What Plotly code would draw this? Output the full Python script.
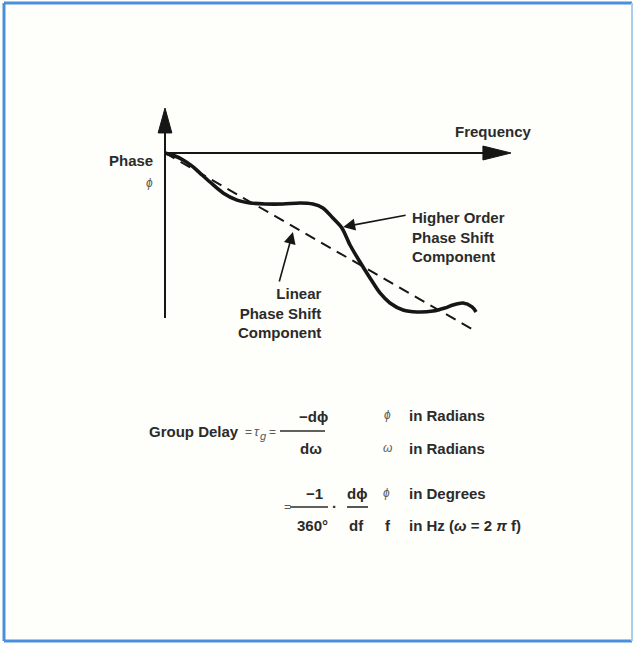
import plotly.graph_objects as go

W, H = 635, 645
# ---- data (frequency units, phase units) ----
freq_curve = [0.00, 0.32, 0.58, 0.87, 1.12, 1.44, 1.86, 2.31, 2.72, 3.21, 3.78, 4.33, 4.74, 5.06,
              5.38, 5.67, 5.93, 6.25, 6.57, 6.89, 7.21, 7.63, 8.08, 8.59, 8.97, 9.23, 9.55, 9.84, 9.97]
phase_curve = [0.00, -0.17, -0.39, -0.73, -1.12, -1.62, -2.23, -2.63, -2.79, -2.85, -2.85, -2.79, -2.85, -3.07,
               -3.63, -4.19, -5.14, -6.09, -6.98, -7.82, -8.38, -8.77, -8.88, -8.83, -8.66, -8.49, -8.38, -8.60, -8.88]
freq_linear = [0.0, 10.0]
phase_linear = [0.0, -10.0]

# axes of the sketch
v_axis_x = [0.0, 0.0]
v_axis_y = [-9.22, 1.12]
h_axis_x = [0.0, 10.2]
h_axis_y = [0.0, 0.0]
up_head_x = [-0.22, 0.22, 0.0, -0.22]
up_head_y = [1.12, 1.12, 2.51, 1.12]
right_head_x = [10.19, 10.19, 11.09, 10.19]
right_head_y = [0.39, -0.39, 0.0, 0.39]

# callout arrows (tip, tail)
higher_tip = (5.71, -4.13)
higher_tail = (7.76, -3.46)
linear_tip = (4.10, -4.41)
linear_tail = (3.65, -7.26)

# pixel scale of the sketch
X0, Y0, SX, SY = 165.0, 153.0, 31.2, 17.9
xr = [(0 - X0) / SX, (W - X0) / SX]
yr = [-(H - Y0) / SY, Y0 / SY]

INK = "#161616"
TXT = "#2b2b2b"
GR = "#5a5a5a"
FONT = "Liberation Sans, Arial, Helvetica, sans-serif"

fig = go.Figure()
fig.add_trace(go.Scatter(x=v_axis_x, y=v_axis_y, mode="lines", line=dict(color=INK, width=2), hoverinfo="skip"))
fig.add_trace(go.Scatter(x=h_axis_x, y=h_axis_y, mode="lines", line=dict(color=INK, width=2), hoverinfo="skip"))
fig.add_trace(go.Scatter(x=up_head_x, y=up_head_y, mode="lines", fill="toself", fillcolor=INK,
                         line=dict(color=INK, width=1), hoverinfo="skip"))
fig.add_trace(go.Scatter(x=right_head_x, y=right_head_y, mode="lines", fill="toself", fillcolor=INK,
                         line=dict(color=INK, width=1), hoverinfo="skip"))
fig.add_trace(go.Scatter(x=freq_linear, y=phase_linear, mode="lines",
                         line=dict(color=INK, width=2, dash="11px,7px"), hoverinfo="skip"))
fig.add_trace(go.Scatter(x=freq_curve, y=phase_curve, mode="lines",
                         line=dict(color=INK, width=3.6, shape="spline", smoothing=0.8), hoverinfo="skip"))


def P(px, py):
    return px / W, 1 - py / H


ann = []


def txt(text, px, py, xanchor="left", size=15, bold=True, color=TXT, align="left", italic=False):
    x, y = P(px, py)
    ann.append(dict(x=x, y=y, xref="paper", yref="paper", text=text, showarrow=False,
                    xanchor=xanchor, yanchor="middle", align=align,
                    font=dict(family=FONT, size=size, color=color,
                              weight="bold" if bold else "normal",
                              style="italic" if italic else "normal")))


# diagram labels
txt("Frequency", 493, 131, xanchor="center")
txt("Phase", 155, 160, xanchor="right")
txt("ϕ", 149, 183, xanchor="center", size=12, bold=False, italic=True, color=GR)
txt("Higher Order<br>Phase Shift<br>Component", 410, 237, xanchor="left", align="left")
txt("Linear<br>Phase Shift<br>Component", 323, 313, xanchor="right", align="right")

# callout arrows
for tip, tail in [(higher_tip, higher_tail), (linear_tip, linear_tail)]:
    ann.append(dict(x=tip[0], y=tip[1], ax=tail[0], ay=tail[1], xref="x", yref="y", axref="x", ayref="y",
                    text="", showarrow=True, arrowhead=2, arrowsize=1.5, arrowwidth=1.6, arrowcolor=INK,
                    standoff=0, startstandoff=0))

# equations
txt("Group Delay", 147, 431)
txt("=", 243, 432, size=12, bold=False, color=GR)
txt("τ", 252, 431, size=13, bold=False, italic=True, color=GR)
txt("g", 258, 436, size=11, bold=False, italic=True, color=GR)
txt("=", 267, 432, size=12, bold=False, color=GR)
txt("−dϕ", 313, 416, xanchor="center")
txt("dω", 311, 449, xanchor="center")
txt("ϕ", 387, 415, xanchor="center", size=12, bold=False, italic=True, color=GR)
txt("in Radians", 407, 415)
txt("ω", 387, 448, xanchor="center", size=12, bold=False, italic=True, color=GR)
txt("in Radians", 407, 448)

txt("=", 282, 507, size=12, bold=False, color=GR)
txt("−1", 314, 493, xanchor="center")
txt("360°", 312, 525, xanchor="center")
txt("·", 335, 506, xanchor="center", size=15)
txt("dϕ", 357, 493, xanchor="center")
txt("df", 356, 525, xanchor="center")
txt("ϕ", 386, 493, xanchor="center", size=12, bold=False, italic=True, color=GR)
txt("in Degrees", 407, 493)
txt("f", 388, 525, xanchor="center")
txt("in Hz (<i>ω</i> = 2 <i>π</i> f)", 407, 525)


def hline(x0, x1, y, color=TXT, width=1.6):
    a, b = P(x0, y)
    c, _ = P(x1, y)
    return dict(type="line", xref="paper", yref="paper", x0=a, x1=c, y0=b, y1=b,
                line=dict(color=color, width=width))


shapes = [
    hline(280, 325, 431),
    hline(290, 328, 507),
    hline(347, 368, 507),
]
# blue frame
BL = "#4a8fdc"
fx0, fy0 = P(4, 3)
fx1, fy1 = P(632, 641)
shapes += [
    dict(type="line", xref="paper", yref="paper", x0=fx0, x1=fx1, y0=fy0, y1=fy0, line=dict(color=BL, width=3)),
    dict(type="line", xref="paper", yref="paper", x0=fx0, x1=fx1, y0=fy1, y1=fy1, line=dict(color=BL, width=3)),
    dict(type="line", xref="paper", yref="paper", x0=fx0, x1=fx0, y0=fy0, y1=fy1, line=dict(color=BL, width=3)),
    dict(type="line", xref="paper", yref="paper", x0=fx1, x1=fx1, y0=fy0, y1=fy1, line=dict(color="#a9cdf0", width=2)),
]

fig.update_layout(
    width=W, height=H, autosize=False,
    margin=dict(l=0, r=0, t=0, b=0),
    paper_bgcolor="#fefefa", plot_bgcolor="#fefefa",
    showlegend=False,
    xaxis=dict(range=xr, visible=False, fixedrange=True),
    yaxis=dict(range=yr, visible=False, fixedrange=True),
    annotations=ann, shapes=shapes,
)
fig.write_html("out.html", config={"displayModeBar": False},
               post_script="document.body.style.margin='0';document.body.style.overflow='hidden';")
